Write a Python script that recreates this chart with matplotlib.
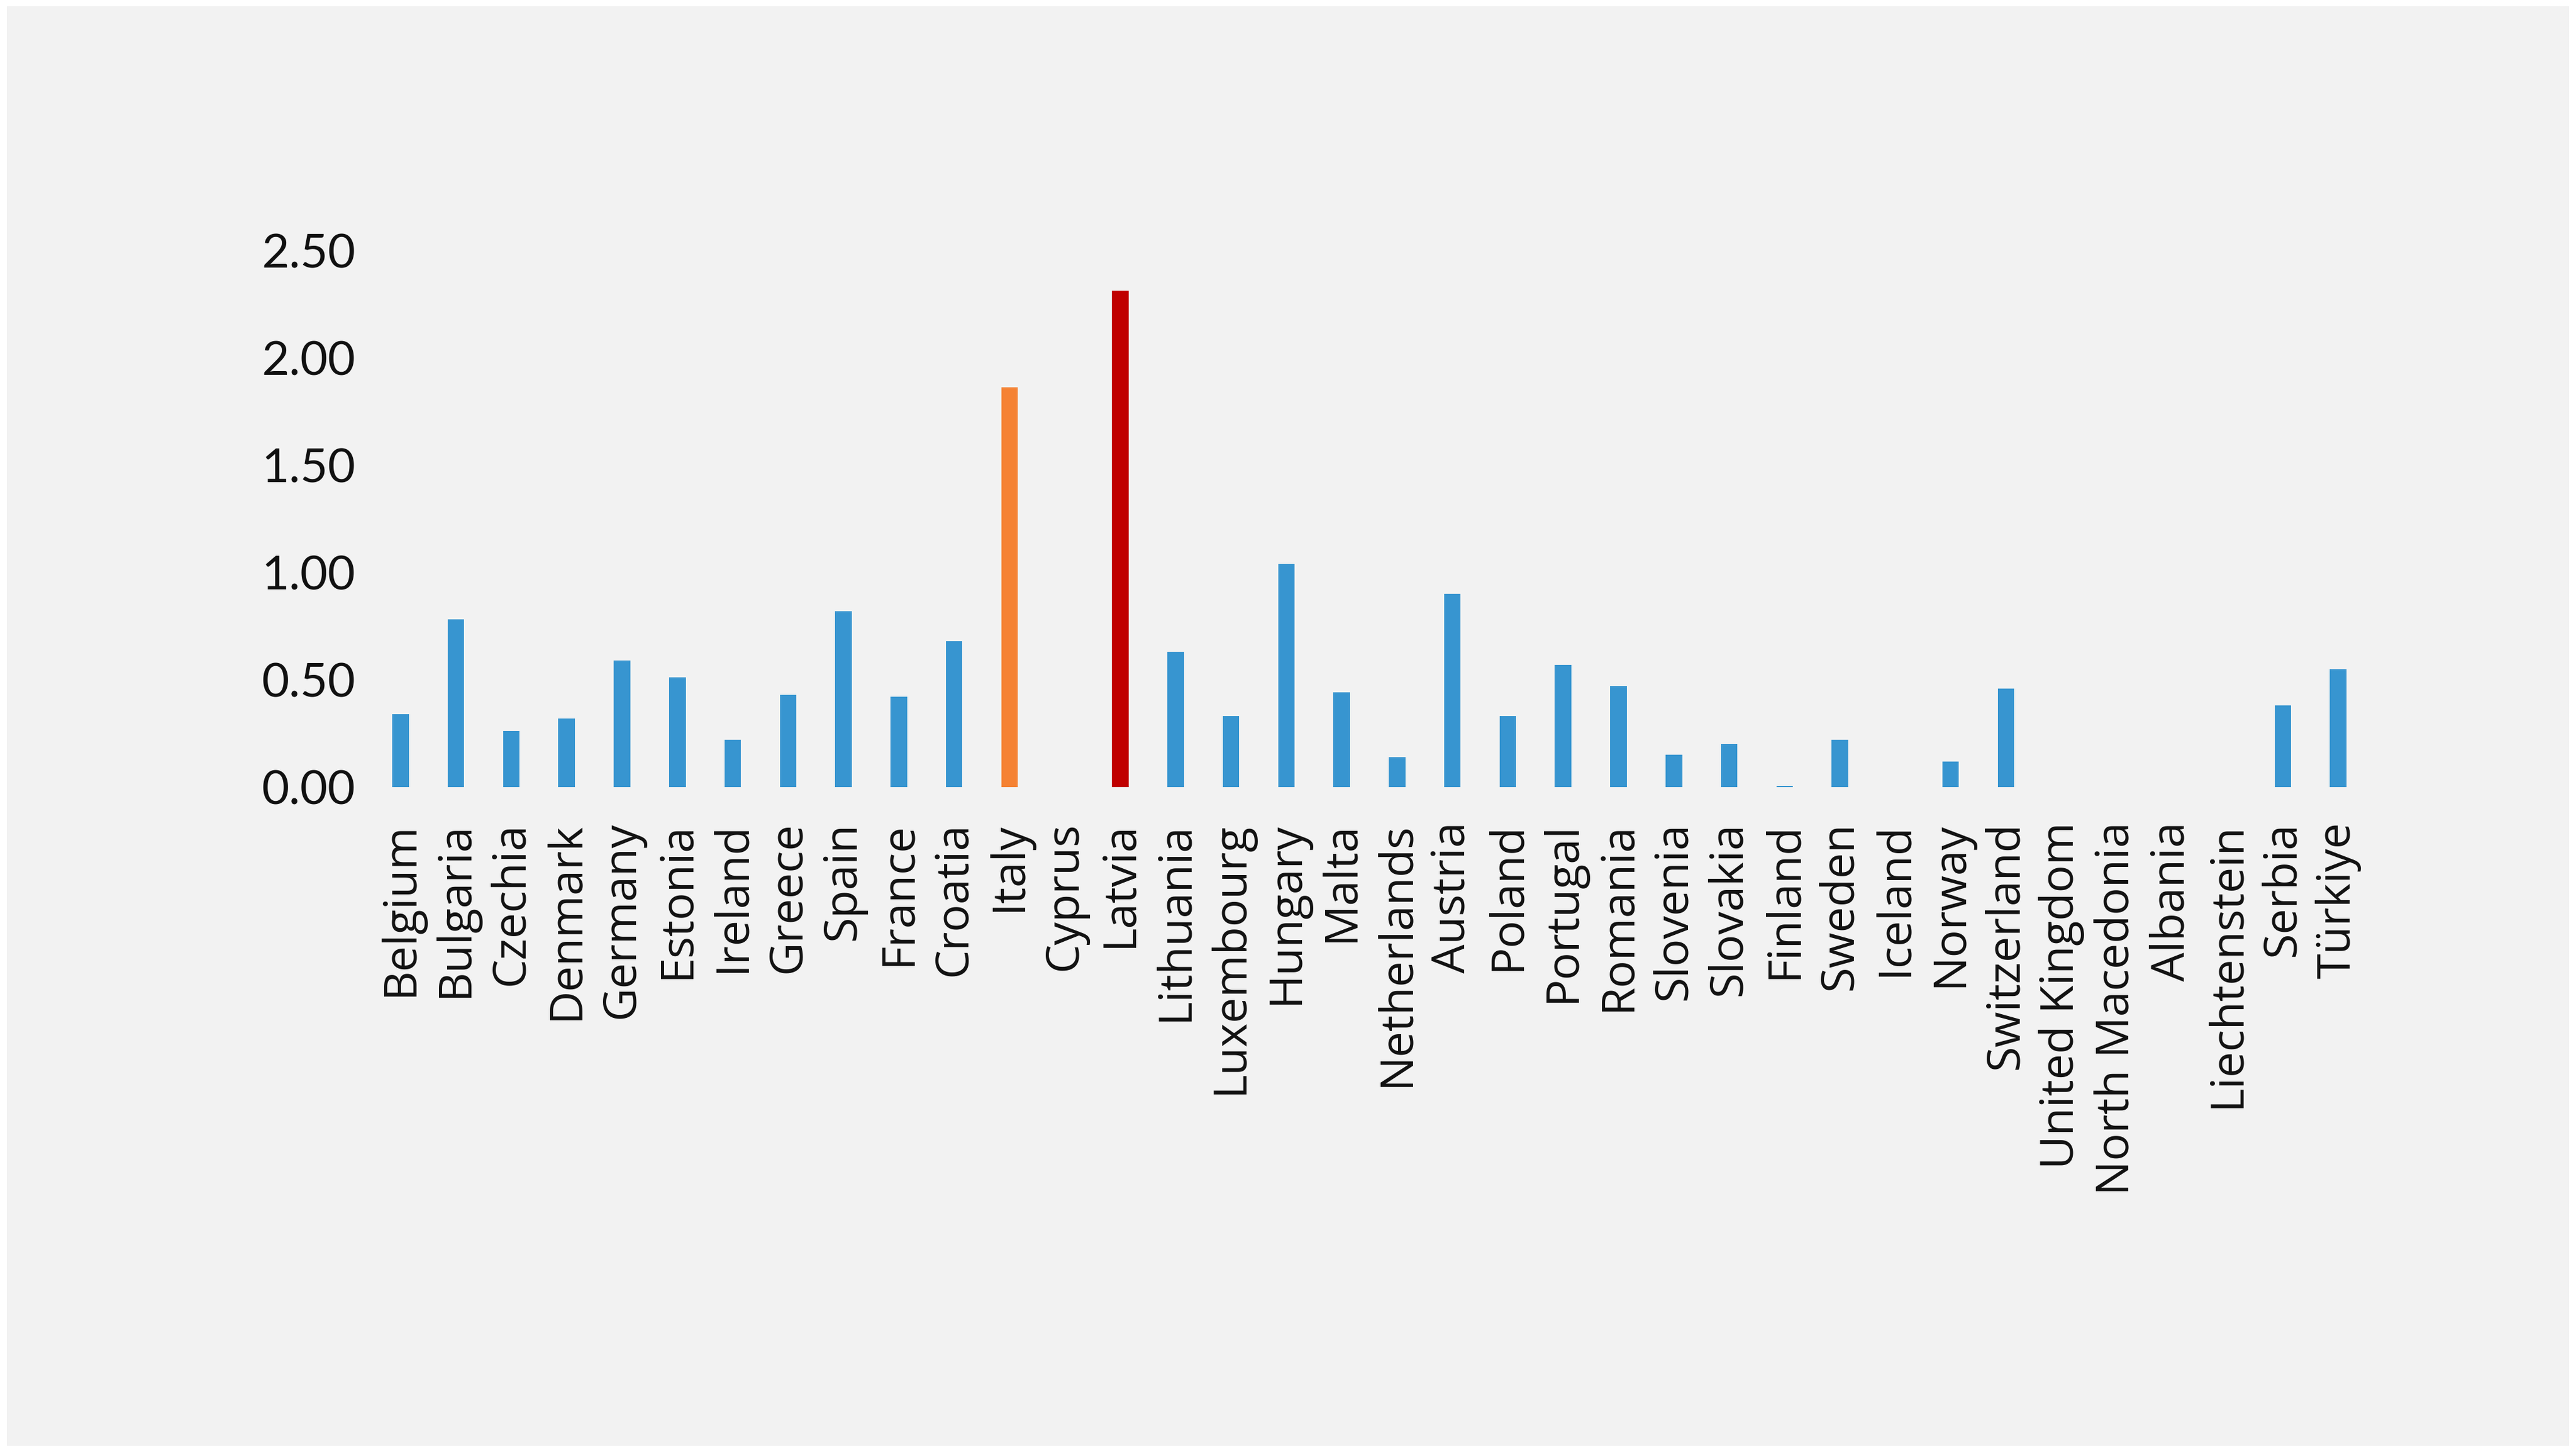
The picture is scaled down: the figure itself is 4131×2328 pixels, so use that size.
import matplotlib
matplotlib.use("Agg")
import matplotlib.pyplot as plt
from matplotlib.patches import Rectangle

countries = ["Belgium", "Bulgaria", "Czechia", "Denmark", "Germany", "Estonia", "Ireland",
             "Greece", "Spain", "France", "Croatia", "Italy", "Cyprus", "Latvia", "Lithuania",
             "Luxembourg", "Hungary", "Malta", "Netherlands", "Austria", "Poland", "Portugal",
             "Romania", "Slovenia", "Slovakia", "Finland", "Sweden", "Iceland", "Norway",
             "Switzerland", "United Kingdom", "North Macedonia", "Albania", "Liechtenstein",
             "Serbia", "Türkiye"]
values = [0.34, 0.78, 0.26, 0.32, 0.59, 0.51, 0.22,
          0.43, 0.82, 0.42, 0.68, 1.86, 0.0, 2.31, 0.63,
          0.33, 1.04, 0.44, 0.14, 0.90, 0.33, 0.57,
          0.47, 0.15, 0.20, 0.005, 0.22, 0.0, 0.12,
          0.46, 0.0, 0.0, 0.0, 0.0,
          0.38, 0.55]
highlight = {"Italy": "#F58233", "Latvia": "#C00000"}
base_color = "#3795D0"
yticks = [0.0, 0.5, 1.0, 1.5, 2.0, 2.5]
ytick_labels = ["0.00", "0.50", "1.00", "1.50", "2.00", "2.50"]

W, H = 4131, 2328
fig = plt.figure(figsize=(W / 100, H / 100), dpi=100, facecolor="white")
bg = Rectangle((11 / W, 10 / H), (W - 22) / W, (H - 20) / H,
               transform=fig.transFigure, facecolor="#F2F2F2",
               edgecolor="none", zorder=-10)
fig.patches.append(bg)

left = 598 / W
right = 3794 / W
bottom = (H - 1262) / H
top = (H - 401) / H
ax = fig.add_axes([left, bottom, right - left, top - bottom])
ax.set_facecolor("none")
ax.set_zorder(5)

colors = [highlight.get(c, base_color) for c in countries]
x = list(range(len(countries)))
ax.bar(x, values, width=0.3, color=colors, zorder=2)

ax.set_xlim(-0.5, len(countries) - 0.5)
ax.set_ylim(0, 2.5)
ax.set_yticks(yticks)
ax.set_yticklabels(ytick_labels, fontfamily="Lato", fontsize=55, color="#111111")
ax.set_xticks(x)
ax.set_xticklabels(countries, rotation=90, fontfamily="Open Sans", fontsize=53, color="#111111")
ax.tick_params(axis="x", length=0, pad=40)
ax.tick_params(axis="y", length=0, pad=20)
for s in ax.spines.values():
    s.set_visible(False)

fig.savefig("out.png", dpi=100, facecolor=fig.get_facecolor())
